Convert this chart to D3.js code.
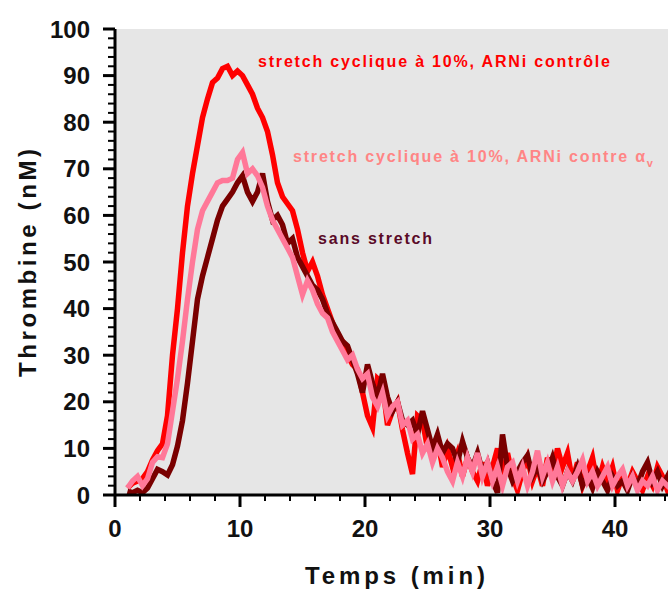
<!DOCTYPE html>
<html><head><meta charset="utf-8">
<script src="https://cdn.jsdelivr.net/npm/d3@7"></script>
<style>
html,body{margin:0;padding:0;background:#fff;}
svg{display:block;}
text{font-family:"Liberation Sans",Arial,sans-serif;font-weight:bold;}
</style></head>
<body>
<svg id="chart" width="668" height="589"></svg>
<script>
// sampling: t = t0 + i*dt (minutes)
const t0 = 1.0, dt = 0.4;
const ctrl = [1.5,2.5,3.0,3.5,5.0,7.5,9.5,11.0,17,30,40,52,62,69,75,81,85,88.5,89.5,91.5,92,90,91,90,88,86,83,81,78,73,67,64,62.5,61,57,52,48,50,47,43,40,37,34,33,30,28,27,22,17,14.5,25,24,15,18,20,14,9,4.5,17,16,10,9,12,6,10,6,9,4,8,5,3,7,2,6,10,4,9,4,1,5,8,3,6,2,8,4,10,6,9,3,7,2,5,8,2,6,3,6,1,4,2,5,3,1,4,2,6,4,1,3];
const alphav = [1.5,3.0,4.0,2.0,3.5,7.0,8.2,8.0,11,18,25,33,42,50,57,61,63,65,67,67.5,67.5,68,72,73.5,69,70,68.5,66,62,59,57,55,53,51,47,43,46,44,41,39,38,35,33,31,29,30,27,25,26,21,19,22,17,19,20,15,16,12,13,9,11,7,10,8,5,3,7,4,8,5,9,4,7,3,6,2,6,7,3,6,2,5,9.5,4,7,3,6,2,5,3,5,7.5,3,5,2,4,6,2,4,5.5,2,4,1,3,2,4,1,3,2,1];
const noStretch = [0.8,0.5,1.0,0.5,1.5,3.5,5.5,5.0,4.3,6.5,10.5,16,24,33,42,47,51,55,59,62,63.5,65,67,68.5,65,63,65,69,63,59,60,58,54,55,51,49,47,45,44,42,39,37,35,33,32,29,26,22,28,24,21,26,21,18,20,16,15,16,13,18,14,10,13,9,11,10,7,11.5,8,6,9,5,7,3,0.5,13,6,3,5,7,8.5,4,6,3,5,8,4,2,5,3,6,2,4,1.5,5,3,1,4,2,3,1,4,2,5,7,3,5,2,4,1];
const xTicks = [0,10,20,30,40];
const yTicks = [0,10,20,30,40,50,60,70,80,90,100];
const seriesNames = ["stretch cyclique à 10%, ARNi contrôle","stretch cyclique à 10%, ARNi contre α","sans stretch"];

const svg = d3.select("#chart");
const x = d3.scaleLinear().domain([0,44.24]).range([115,668]);
const y = d3.scaleLinear().domain([0,100]).range([495,29]);

svg.append("rect").attr("x",x(0)).attr("y",y(100)).attr("width",668-x(0)).attr("height",y(0)-y(100)).attr("fill","#e6e6e6");

svg.append("clipPath").attr("id","clip").append("rect")
  .attr("x",x(0)).attr("y",y(100)-5).attr("width",668-x(0)).attr("height",y(0)-y(100)+5);

const line = d3.line().x((d,i)=>x(t0+i*dt)).y(d=>y(d));
const g = svg.append("g").attr("clip-path","url(#clip)");
g.append("path").datum(ctrl).attr("d",line).attr("fill","none").attr("stroke","#ff0000").attr("stroke-width",5.5);
g.append("path").datum(noStretch).attr("d",line).attr("fill","none").attr("stroke","#7a0000").attr("stroke-width",5.5);
g.append("path").datum(alphav).attr("d",line).attr("fill","none").attr("stroke","#ff7898").attr("stroke-width",5.5);

// axes
const yAxis = svg.append("g").attr("transform",`translate(${x(0)},0)`);
yAxis.append("line").attr("x1",0).attr("x2",0).attr("y1",y(100)).attr("y2",y(0)).attr("stroke","#000").attr("stroke-width",3);
d3.range(0,101,2).forEach(v=>{
  const major = v%10===0;
  yAxis.append("line").attr("x1",major?-12:-7).attr("x2",0).attr("y1",y(v)).attr("y2",y(v)).attr("stroke","#000").attr("stroke-width",major?3:2);
});
yAxis.selectAll("text.yt").data(yTicks).enter().append("text")
  .attr("x",-25).attr("y",d=>y(d)).attr("dy","0.36em").attr("text-anchor","end")
  .attr("font-size",24).attr("fill","#111").text(d=>d);

const xAxis = svg.append("g").attr("transform",`translate(0,${y(0)})`);
xAxis.append("line").attr("x1",x(0)).attr("x2",668).attr("y1",0).attr("y2",0).attr("stroke","#000").attr("stroke-width",3);
d3.range(0,45,2).forEach(v=>{
  const major = v%10===0;
  xAxis.append("line").attr("x1",x(v)).attr("x2",x(v)).attr("y1",0).attr("y2",major?12:6).attr("stroke","#000").attr("stroke-width",major?3:2);
});
xAxis.selectAll("text.xt").data(xTicks).enter().append("text")
  .attr("x",d=>x(d)).attr("y",42).attr("text-anchor","middle")
  .attr("font-size",24).attr("fill","#111").text(d=>d);

// axis titles
svg.append("text").attr("x",395).attr("y",584).attr("text-anchor","middle")
  .attr("font-size",24).attr("fill","#111").attr("textLength",180).attr("lengthAdjust","spacing").text("Temps (min)");
svg.append("text").attr("transform","translate(36,263) rotate(-90)").attr("text-anchor","middle")
  .attr("font-size",24).attr("fill","#111").attr("textLength",228).attr("lengthAdjust","spacing").text("Thrombine (nM)");

// series labels
svg.append("text").attr("x",258).attr("y",67).attr("font-size",16).attr("fill","#ff0000")
  .attr("textLength",352).attr("lengthAdjust","spacing").text(seriesNames[0]);
const t2 = svg.append("text").attr("x",293).attr("y",162).attr("font-size",16).attr("fill","#ff8585");
t2.append("tspan").attr("textLength",352).attr("lengthAdjust","spacing").text(seriesNames[1]);
t2.append("tspan").attr("font-size",11).attr("dy",5).text("v");
svg.append("text").attr("x",318).attr("y",244).attr("font-size",16).attr("fill","#5a0a28")
  .attr("textLength",114).attr("lengthAdjust","spacing").text(seriesNames[2]);
</script>
</body></html>
